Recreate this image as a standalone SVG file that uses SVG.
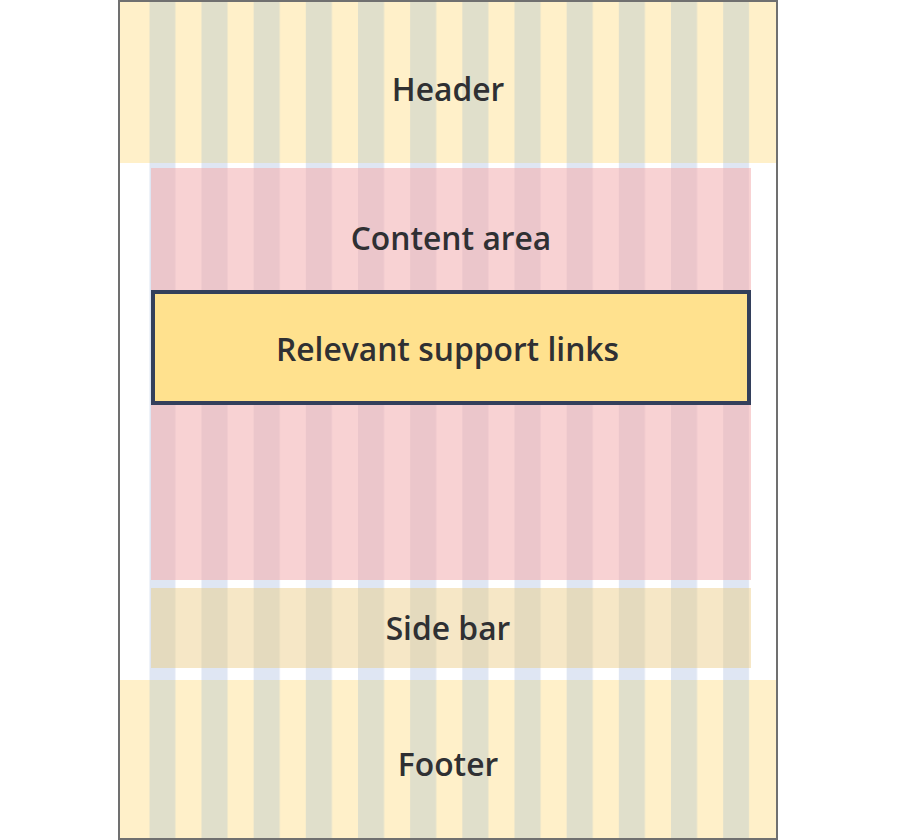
<svg xmlns="http://www.w3.org/2000/svg" width="900" height="840" viewBox="0 0 900 840">
  <style>
    .lbl { font-family: "Open Sans", "Noto Sans", "Liberation Sans", sans-serif; font-weight: 600; font-size: 31.8px; fill: #2f3033; text-anchor: middle; }
  </style>
  <defs>
    <pattern id="colWhite" patternUnits="userSpaceOnUse" x="149.3" y="0" width="52.17" height="840">
      <rect x="0" y="0" width="26.09" height="840" fill="#dfe6f3"/>
    </pattern>
    <pattern id="colYellow" patternUnits="userSpaceOnUse" x="149.3" y="0" width="52.17" height="840">
      <rect x="0" y="0" width="26.09" height="840" fill="#e0dfcb"/>
    </pattern>
    <pattern id="colPink" patternUnits="userSpaceOnUse" x="149.3" y="0" width="52.17" height="840">
      <rect x="0" y="0" width="26.09" height="840" fill="#ebc6cb"/>
    </pattern>
    <pattern id="colTan" patternUnits="userSpaceOnUse" x="149.3" y="0" width="52.17" height="840">
      <rect x="0" y="0" width="26.09" height="840" fill="#e4dabe"/>
    </pattern>
  </defs>

  <rect x="0" y="0" width="900" height="840" fill="#ffffff"/>
  <rect x="149.3" y="0" width="600" height="840" fill="url(#colWhite)"/>

  <g id="header">
    <rect x="120" y="0" width="656" height="163" fill="#fff0c9"/>
    <rect x="149.3" y="0" width="600" height="163" fill="url(#colYellow)"/>
    <text class="lbl" x="448" y="100.5">Header</text>
  </g>

  <g id="content-area">
    <rect x="151" y="168" width="600" height="412" fill="#f8d2d3"/>
    <rect x="151" y="168" width="598.3" height="412" fill="url(#colPink)"/>
    <text class="lbl" x="451" y="249.5">Content area</text>
  </g>

  <g id="side-bar">
    <rect x="151" y="588" width="600" height="80" fill="#f6e7c6"/>
    <rect x="151" y="588" width="598.3" height="80" fill="url(#colTan)"/>
    <text class="lbl" x="448" y="639.5">Side bar</text>
  </g>

  <g id="footer">
    <rect x="120" y="680" width="656" height="160" fill="#fff0c9"/>
    <rect x="149.3" y="680" width="600" height="160" fill="url(#colYellow)"/>
    <text class="lbl" x="448" y="775.5">Footer</text>
  </g>

  <g id="frame">
    <rect x="119" y="1" width="658" height="838" fill="none" stroke="#707070" stroke-width="2"/>
  </g>

  <g id="support-links">
    <rect x="153" y="292" width="596" height="111" fill="#ffe18e" stroke="#333f5b" stroke-width="4"/>
    <text class="lbl" x="447.5" y="360.5">Relevant support links</text>
  </g>

  <g id="connectors"/>
</svg>
